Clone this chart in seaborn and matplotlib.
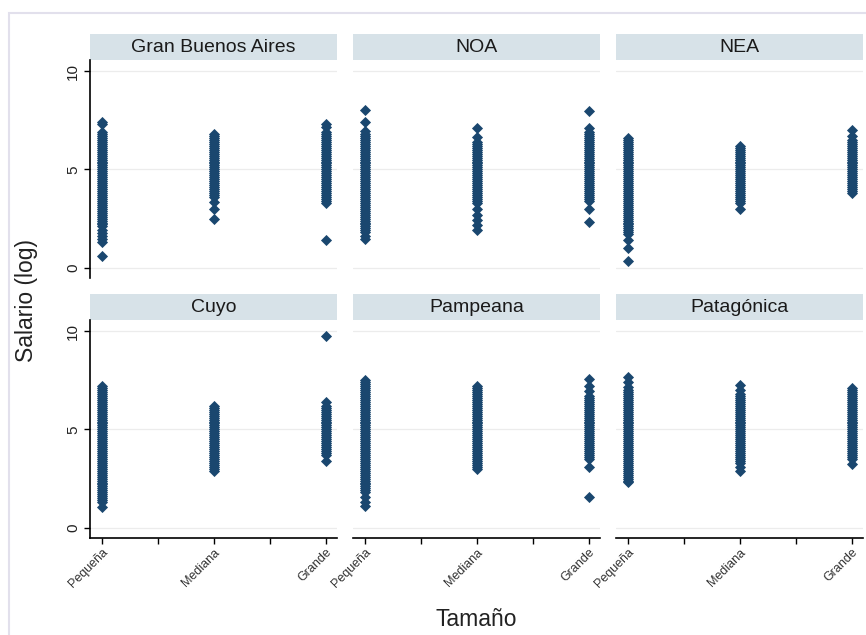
import matplotlib.pyplot as plt
from matplotlib.patches import Rectangle
import seaborn as sns
import pandas as pd

# regiones y tamaños de empresa
regiones = ['Gran Buenos Aires', 'NOA', 'NEA', 'Cuyo', 'Pampeana', 'Patagónica']
tamanos = ['Pequeña', 'Mediana', 'Grande']

# salario (log), por región y tamaño
gba_peq = [7.4, 7.3,
           6.9, 6.8, 6.7, 6.6, 6.5, 6.4, 6.3, 6.2, 6.1, 6.0,
           5.9, 5.8, 5.7, 5.6, 5.5, 5.4, 5.3, 5.2, 5.1, 5.0,
           4.9, 4.8, 4.7, 4.6, 4.5, 4.4, 4.3, 4.2, 4.1, 4.0,
           3.9, 3.8, 3.7, 3.6, 3.5, 3.4, 3.3, 3.2, 3.1, 3.0,
           2.9, 2.8, 2.7, 2.6, 2.5, 2.4, 2.3, 2.2, 2.1,
           1.9, 1.75, 1.6, 1.45, 1.3, 0.6]
gba_med = [6.8, 6.7, 6.6, 6.5, 6.4, 6.3, 6.2, 6.1, 6.0,
           5.9, 5.8, 5.7, 5.6, 5.5, 5.4, 5.3, 5.2, 5.1, 5.0,
           4.9, 4.8, 4.7, 4.6, 4.5, 4.4, 4.3, 4.2, 4.1, 4.0,
           3.9, 3.8, 3.7, 3.6, 3.35, 3.0, 2.5]
gba_gde = [7.3, 7.15,
           6.9, 6.8, 6.7, 6.6, 6.5, 6.4, 6.3, 6.2, 6.1, 6.0,
           5.9, 5.8, 5.7, 5.6, 5.5, 5.4, 5.3, 5.2, 5.1, 5.0,
           4.9, 4.8, 4.7, 4.6, 4.5, 4.4, 4.3, 4.2, 4.1, 4.0,
           3.9, 3.8, 3.7, 3.6, 3.5, 3.4, 3.3, 1.4]

noa_peq = [8.0, 7.4, 6.95,
           6.8, 6.7, 6.6, 6.5, 6.4, 6.3, 6.2, 6.1, 6.0,
           5.9, 5.8, 5.7, 5.6, 5.5, 5.4, 5.3, 5.2, 5.1, 5.0,
           4.9, 4.8, 4.7, 4.6, 4.5, 4.4, 4.3, 4.2, 4.1, 4.0,
           3.9, 3.8, 3.7, 3.6, 3.5, 3.4, 3.3, 3.2, 3.1, 3.0,
           2.9, 2.8, 2.7, 2.6, 2.5, 2.4, 2.3, 2.2, 2.1, 2.0,
           1.9, 1.8, 1.6, 1.45]
noa_med = [7.1, 6.65,
           6.4, 6.3, 6.2, 6.1, 6.0,
           5.9, 5.8, 5.7, 5.6, 5.5, 5.4, 5.3, 5.2, 5.1, 5.0,
           4.9, 4.8, 4.7, 4.6, 4.5, 4.4, 4.3, 4.2, 4.1, 4.0,
           3.9, 3.8, 3.7, 3.6, 3.5, 3.4, 3.3,
           3.0, 2.7, 2.45, 2.15, 1.9]
noa_gde = [7.95, 7.1,
           6.9, 6.8, 6.7, 6.6, 6.5, 6.4, 6.3, 6.2, 6.1, 6.0,
           5.9, 5.8, 5.7, 5.6, 5.5, 5.4, 5.3, 5.2, 5.1, 5.0,
           4.9, 4.8, 4.7, 4.6, 4.5, 4.4, 4.3, 4.2, 4.1, 4.0,
           3.9, 3.8, 3.7, 3.6, 3.5, 3.4, 3.0, 2.35]

nea_peq = [6.6, 6.5, 6.4, 6.3, 6.2, 6.1, 6.0,
           5.9, 5.8, 5.7, 5.6, 5.5, 5.4, 5.3, 5.2, 5.1, 5.0,
           4.9, 4.8, 4.7, 4.6, 4.5, 4.4, 4.3, 4.2, 4.1, 4.0,
           3.9, 3.8, 3.7, 3.6, 3.5, 3.4, 3.3, 3.2, 3.1, 3.0,
           2.9, 2.8, 2.7, 2.6, 2.5, 2.4, 2.3, 2.2, 2.1, 2.0,
           1.9, 1.8, 1.7, 1.4, 1.0, 0.35]
nea_med = [6.2, 6.1, 6.0,
           5.9, 5.8, 5.7, 5.6, 5.5, 5.4, 5.3, 5.2, 5.1, 5.0,
           4.9, 4.8, 4.7, 4.6, 4.5, 4.4, 4.3, 4.2, 4.1, 4.0,
           3.9, 3.8, 3.7, 3.6, 3.5, 3.4, 3.3, 3.0]
nea_gde = [7.0, 6.7,
           6.5, 6.4, 6.3, 6.2, 6.1, 6.0,
           5.9, 5.8, 5.7, 5.6, 5.5, 5.4, 5.3, 5.2, 5.1, 5.0,
           4.9, 4.8, 4.7, 4.6, 4.5, 4.4, 4.3, 4.2, 4.1, 4.0,
           3.9, 3.8]

cuyo_peq = [7.2, 7.1, 7.0,
            6.9, 6.8, 6.7, 6.6, 6.5, 6.4, 6.3, 6.2, 6.1, 6.0,
            5.9, 5.8, 5.7, 5.6, 5.5, 5.4, 5.3, 5.2, 5.1, 5.0,
            4.9, 4.8, 4.7, 4.6, 4.5, 4.4, 4.3, 4.2, 4.1, 4.0,
            3.9, 3.8, 3.7, 3.6, 3.5, 3.4, 3.3, 3.2, 3.1, 3.0,
            2.9, 2.8, 2.7, 2.6, 2.5, 2.4, 2.3, 2.2, 2.1, 2.0,
            1.9, 1.8, 1.7, 1.6, 1.5, 1.4, 1.3, 1.05]
cuyo_med = [6.2, 6.1, 6.0,
            5.9, 5.8, 5.7, 5.6, 5.5, 5.4, 5.3, 5.2, 5.1, 5.0,
            4.9, 4.8, 4.7, 4.6, 4.5, 4.4, 4.3, 4.2, 4.1, 4.0,
            3.9, 3.8, 3.7, 3.6, 3.5, 3.4, 3.3, 3.2, 3.1, 3.0, 2.9]
cuyo_gde = [9.75, 6.4,
            6.2, 6.1, 6.0,
            5.9, 5.8, 5.7, 5.6, 5.5, 5.4, 5.3, 5.2, 5.1, 5.0,
            4.9, 4.8, 4.7, 4.6, 4.5, 4.4, 4.3, 4.2, 4.1, 4.0,
            3.9, 3.8, 3.7, 3.4]

pamp_peq = [7.5, 7.4, 7.3, 7.2, 7.1, 7.0,
            6.9, 6.8, 6.7, 6.6, 6.5, 6.4, 6.3, 6.2, 6.1, 6.0,
            5.9, 5.8, 5.7, 5.6, 5.5, 5.4, 5.3, 5.2, 5.1, 5.0,
            4.9, 4.8, 4.7, 4.6, 4.5, 4.4, 4.3, 4.2, 4.1, 4.0,
            3.9, 3.8, 3.7, 3.6, 3.5, 3.4, 3.3, 3.2, 3.1, 3.0,
            2.9, 2.8, 2.7, 2.6, 2.5, 2.4, 2.3, 2.2, 2.1, 2.0,
            1.9, 1.8, 1.55, 1.3, 1.1]
pamp_med = [7.2, 7.1, 7.0,
            6.9, 6.8, 6.7, 6.6, 6.5, 6.4, 6.3, 6.2, 6.1, 6.0,
            5.9, 5.8, 5.7, 5.6, 5.5, 5.4, 5.3, 5.2, 5.1, 5.0,
            4.9, 4.8, 4.7, 4.6, 4.5, 4.4, 4.3, 4.2, 4.1, 4.0,
            3.9, 3.8, 3.7, 3.6, 3.5, 3.4, 3.3, 3.2, 3.1, 3.0]
pamp_gde = [7.55, 7.2, 6.95,
            6.7, 6.6, 6.5, 6.4, 6.3, 6.2, 6.1, 6.0,
            5.9, 5.8, 5.7, 5.6, 5.5, 5.4, 5.3, 5.2, 5.1, 5.0,
            4.9, 4.8, 4.7, 4.6, 4.5, 4.4, 4.3, 4.2, 4.1, 4.0,
            3.9, 3.8, 3.7, 3.6, 3.5, 3.1, 1.55]

pata_peq = [7.65, 7.4, 7.15, 7.0,
            6.9, 6.8, 6.7, 6.6, 6.5, 6.4, 6.3, 6.2, 6.1, 6.0,
            5.9, 5.8, 5.7, 5.6, 5.5, 5.4, 5.3, 5.2, 5.1, 5.0,
            4.9, 4.8, 4.7, 4.6, 4.5, 4.4, 4.3, 4.2, 4.1, 4.0,
            3.9, 3.8, 3.7, 3.6, 3.5, 3.4, 3.3, 3.2, 3.1, 3.0,
            2.9, 2.8, 2.7, 2.6, 2.5, 2.4, 2.35]
pata_med = [7.25, 7.0,
            6.8, 6.7, 6.6, 6.5, 6.4, 6.3, 6.2, 6.1, 6.0,
            5.9, 5.8, 5.7, 5.6, 5.5, 5.4, 5.3, 5.2, 5.1, 5.0,
            4.9, 4.8, 4.7, 4.6, 4.5, 4.4, 4.3, 4.2, 4.1, 4.0,
            3.9, 3.8, 3.7, 3.6, 3.5, 3.4, 3.3, 3.1, 2.9]
pata_gde = [7.1, 7.0,
            6.9, 6.8, 6.7, 6.6, 6.5, 6.4, 6.3, 6.2, 6.1, 6.0,
            5.9, 5.8, 5.7, 5.6, 5.5, 5.4, 5.3, 5.2, 5.1, 5.0,
            4.9, 4.8, 4.7, 4.6, 4.5, 4.4, 4.3, 4.2, 4.1, 4.0,
            3.9, 3.8, 3.7, 3.6, 3.5, 3.25]

valores = {
    'Gran Buenos Aires': [gba_peq, gba_med, gba_gde],
    'NOA': [noa_peq, noa_med, noa_gde],
    'NEA': [nea_peq, nea_med, nea_gde],
    'Cuyo': [cuyo_peq, cuyo_med, cuyo_gde],
    'Pampeana': [pamp_peq, pamp_med, pamp_gde],
    'Patagónica': [pata_peq, pata_med, pata_gde],
}
filas = []
for reg, listas in valores.items():
    for tam, vals in zip(tamanos, listas):
        for v in vals:
            filas.append((reg, tam, v))
df = pd.DataFrame(filas, columns=['region', 'tamano', 'salario'])

sns.set_style('white')
plt.rcParams['font.family'] = ['Liberation Sans', 'DejaVu Sans']

g = sns.catplot(data=df, x='tamano', y='salario', col='region', col_wrap=3,
                kind='strip', order=tamanos, col_order=regiones, jitter=False,
                marker='D', s=32, linewidth=0, color='#1a476f',
                height=3, aspect=1.1)
fig = g.figure
fig.set_size_inches(8.66, 6.35)
fig.subplots_adjust(left=90 / 866, right=863 / 866, bottom=1 - 538 / 635,
                    top=1 - 60 / 635, wspace=16 / 247, hspace=42 / 218)
g.set_axis_labels('', '')

for i, ax in enumerate(g.axes.flat):
    fila, col = divmod(i, 3)
    ax.set_title('')
    ax.set_ylim(-0.52, 10.56)
    ax.set_xlim(-0.104, 2.10)
    ax.set_yticks([0, 5, 10])
    ax.set_yticklabels(['0', '5', '10'])
    ax.set_xticks([0, 1, 2])
    ax.set_xticks([0.5, 1.5], minor=True)
    ax.set_xticklabels(tamanos, rotation=45, ha='right', rotation_mode='anchor',
                       fontsize=9, color='#333333')
    ax.yaxis.grid(True, color='#ececec', lw=0.9)
    ax.xaxis.grid(False)
    ax.set_axisbelow(True)
    for s in ['top', 'right']:
        ax.spines[s].set_visible(False)
    ax.spines['left'].set_visible(col == 0)
    ax.spines['bottom'].set_visible(fila == 1)
    for s in ['left', 'bottom']:
        ax.spines[s].set_color('black')
        ax.spines[s].set_linewidth(1.2)
    ax.tick_params(axis='x', which='both', length=4, width=1, color='black',
                   direction='out', bottom=(fila == 1), labelbottom=(fila == 1), pad=2)
    ax.tick_params(axis='y', length=4, width=1, color='black', direction='out',
                   left=(col == 0), labelleft=(col == 0), labelsize=11,
                   labelcolor='#222222', labelrotation=90, pad=3)
    if col == 0:
        for lab in ax.get_yticklabels():
            lab.set_visible(True)
            lab.set_va('center')
    if fila == 1:
        for lab in ax.get_xticklabels():
            lab.set_visible(True)
    # cabecera del panel
    ax.add_patch(Rectangle((0, 1), 1, 26 / 218, transform=ax.transAxes,
                           facecolor='#d7e2e8', edgecolor='none', clip_on=False))
    ax.text(0.5, 1 + 13 / 218, regiones[i], transform=ax.transAxes,
            ha='center', va='center', fontsize=14, color='#1a1a1a')

fig.text(26 / 866, 1 - 300 / 635, 'Salario (log)', rotation=90,
         ha='center', va='center', fontsize=16.5, color='#222222')
fig.text(476 / 866, 1 - 620 / 635, 'Tamaño', ha='center', va='center',
         fontsize=16.5, color='#222222')

# marco exterior
fig.add_artist(Rectangle((9 / 866, -0.1), 1.0, 1 - 13 / 635 + 0.1,
                         transform=fig.transFigure, fill=False,
                         edgecolor='#e2e0ec', lw=1.5))

fig.savefig('out.png', dpi=100)
